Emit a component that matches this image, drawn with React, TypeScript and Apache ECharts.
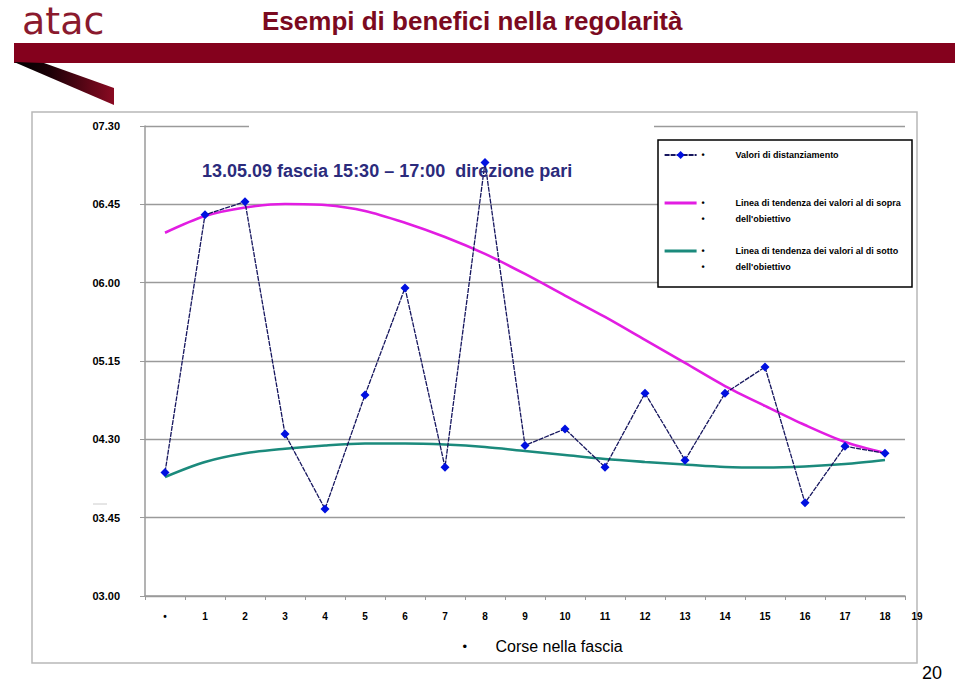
import React, { useEffect, useRef } from "react";
import * as echarts from "echarts";

const FONT = "'Liberation Sans', Arial, Helvetica, sans-serif";

// x-axis tick labels (last one sits past the axis end)
const xLabels = ["•", "1", "2", "3", "4", "5", "6", "7", "8", "9", "10", "11", "12", "13", "14", "15", "16", "17", "18", "19"];

// values in seconds (displayed as mm.ss)
const spacingValues = [251, 399, 406.5, 273, 230, 295.5, 357, 254, 429, 266.5, 276, 254, 296.5, 258, 296.5, 311.5, 233.5, 266, 262];
const trendAbove = [388.7, 398.3, 403.2, 405.2, 404.6, 401.2, 394.4, 386.2, 376.5, 365, 352.6, 340.3, 327.1, 313.9, 300.6, 289.2, 278.2, 268.5, 262.2];
const trendBelow = [248.4, 257, 262, 264.6, 266.5, 267.6, 267.6, 267, 265.6, 263.3, 261, 258.7, 257, 255.5, 254.1, 253.8, 254.4, 255.8, 258.1];

const yMin = 180;
const yMax = 450;
const yStep = 45;

const pageTitle = "Esempi di benefici nella regolarità";
const chartTitle = "13.05.09 fascia 15:30 – 17:00  direzione pari";
const xAxisName = "Corse nella fascia";
const pageNumber = "20";

const seriesNames = [
  "Valori di distanziamento",
  "Linea di tendenza dei valori al di sopra dell'obiettivo",
  "Linea di tendenza dei valori al di sotto dell'obiettivo",
];
const legendLines: Record<string, string[]> = {
  [seriesNames[0]]: ["Valori di distanziamento"],
  [seriesNames[1]]: ["Linea di tendenza dei valori al di sopra", "dell'obiettivo"],
  [seriesNames[2]]: ["Linea di tendenza dei valori al di sotto", "dell'obiettivo"],
};

const pad2 = (n: number) => (n < 10 ? "0" + n : "" + n);
const fmtTime = (v: number) => {
  const m = Math.floor(v / 60);
  const s = Math.round(v - m * 60);
  return pad2(m) + "." + pad2(s);
};

export default function App() {
  const ref = useRef<HTMLDivElement>(null);

  useEffect(() => {
    if (!ref.current) return;
    const chart = echarts.init(ref.current, null, { renderer: "svg" });

    const legendRichLine = { fontSize: 9, fontWeight: "bold", color: "#000", fontFamily: FONT, lineHeight: 16 };

    const option: any = {
      animation: false,
      backgroundColor: "#ffffff",
      title: {
        text: chartTitle,
        left: 202,
        top: 162,
        padding: 0,
        textStyle: { fontSize: 18, fontWeight: "bold", color: "#2b2b7c", fontFamily: FONT },
      },
      grid: { left: 145, right: 55, top: 126, bottom: 87 },
      xAxis: {
        type: "category",
        data: xLabels.slice(0, spacingValues.length),
        boundaryGap: true,
        axisLine: { lineStyle: { color: "#9a9a9a", width: 1.5 } },
        axisTick: { show: true, length: 4, lineStyle: { color: "#9a9a9a", width: 1 } },
        axisLabel: { interval: 0, margin: 15, fontSize: 10, fontWeight: "bold", color: "#000", fontFamily: FONT },
        name: "{b|•}{t|" + xAxisName + "}",
        nameLocation: "middle",
        nameGap: 42,
        nameTextStyle: {
          padding: [0, 0, 0, 35],
          rich: {
            b: { width: 33, align: "left", fontSize: 13, color: "#000", fontFamily: FONT },
            t: { fontSize: 16, color: "#000", fontFamily: FONT },
          },
        },
      },
      yAxis: {
        type: "value",
        min: yMin,
        max: yMax,
        interval: yStep,
        axisLine: { show: true, lineStyle: { color: "#9a9a9a", width: 1.5 } },
        axisTick: { show: true, length: 5, lineStyle: { color: "#9a9a9a", width: 1 } },
        splitLine: { show: true, lineStyle: { color: "#9a9a9a", width: 1.3 } },
        axisLabel: {
          formatter: (v: number) => fmtTime(v),
          margin: 25,
          fontSize: 11,
          fontWeight: "bold",
          color: "#000",
          fontFamily: FONT,
        },
      },
      legend: {
        orient: "vertical",
        left: 663,
        top: 131,
        padding: 0,
        itemGap: 0,
        itemWidth: 32,
        itemHeight: 10,
        selectedMode: false,
        data: [
          { name: seriesNames[0] },
          { name: seriesNames[1], lineStyle: { width: 3.2 } },
          { name: seriesNames[2], lineStyle: { width: 3.2 } },
        ],
        formatter: (name: string) => {
          const lines = legendLines[name] || [name];
          const l1 = "{b|•}{t|" + lines[0] + "}";
          const l2 = lines[1] ? "{b|•}{t|" + lines[1] + "}" : "{e| }";
          return "{e| }\n" + l1 + "\n" + l2;
        },
        textStyle: {
          fontSize: 9,
          fontWeight: "bold",
          color: "#000",
          fontFamily: FONT,
          lineHeight: 16,
          rich: {
            e: { ...legendRichLine },
            b: { ...legendRichLine, width: 34, align: "left" },
            t: { ...legendRichLine },
          },
        },
      },
      graphic: [
        // outer frame of the chart area
        {
          type: "rect",
          z: 1,
          silent: true,
          shape: { x: 32, y: 112, width: 885, height: 551 },
          style: { fill: "none", stroke: "#b8b8b8", lineWidth: 1.5 },
        },
        // white area hiding the top gridline behind the title box
        {
          type: "rect",
          z: 3,
          silent: true,
          shape: { x: 249, y: 121, width: 405, height: 10 },
          style: { fill: "#ffffff" },
        },
        // legend frame
        {
          type: "rect",
          z: 3,
          silent: true,
          shape: { x: 658, y: 140, width: 254, height: 147 },
          style: { fill: "#ffffff", stroke: "#000000", lineWidth: 1.5 },
        },
        // small dash left of 03.45
        {
          type: "line",
          z: 1,
          silent: true,
          shape: { x1: 93, y1: 504, x2: 107, y2: 504 },
          style: { stroke: "#cccccc", lineWidth: 1 },
        },
        // header band
        {
          type: "rect",
          z: 5,
          silent: true,
          shape: { x: 14, y: 43, width: 941, height: 20 },
          style: { fill: "#84011d" },
        },
        {
          type: "polygon",
          z: 5,
          silent: true,
          shape: { points: [[14, 62], [44, 63], [114, 88], [114, 105]] },
          style: {
            fill: new echarts.graphic.LinearGradient(0, 0, 1, 0, [
              { offset: 0, color: "#000000" },
              { offset: 0.35, color: "#1a0006" },
              { offset: 1, color: "#8a0a22" },
            ]),
          },
        },
        {
          type: "text",
          z: 5,
          silent: true,
          x: 22,
          y: 21,
          style: {
            text: "atac",
            fill: "#8a1a2e",
            font: "normal 38px 'DejaVu Sans', sans-serif",
            textAlign: "left",
            textVerticalAlign: "middle",
          },
        },
        {
          type: "text",
          z: 5,
          silent: true,
          x: 262,
          y: 21,
          style: {
            text: pageTitle,
            fill: "#7b0a20",
            font: "bold 26px " + FONT,
            textAlign: "left",
            textVerticalAlign: "middle",
          },
        },
        // last x-axis label beyond the axis end
        {
          type: "text",
          z: 5,
          silent: true,
          x: 917,
          y: 616,
          style: {
            text: xLabels[xLabels.length - 1],
            fill: "#000",
            font: "bold 10px " + FONT,
            textAlign: "center",
            textVerticalAlign: "middle",
          },
        },
        {
          type: "text",
          z: 5,
          silent: true,
          x: 932,
          y: 673,
          style: {
            text: pageNumber,
            fill: "#000",
            font: "normal 18px " + FONT,
            textAlign: "center",
            textVerticalAlign: "middle",
          },
        },
      ],
      series: [
        {
          name: seriesNames[1],
          type: "line",
          data: trendAbove,
          smooth: 0.3,
          symbol: "none",
          z: 2,
          lineStyle: { color: "#e21de2", width: 2.6 },
          itemStyle: { color: "rgba(0,0,0,0)" },
        },
        {
          name: seriesNames[2],
          type: "line",
          data: trendBelow,
          smooth: 0.3,
          symbol: "none",
          z: 2,
          lineStyle: { color: "#1b8a7c", width: 2.6 },
          itemStyle: { color: "rgba(0,0,0,0)" },
        },
        {
          name: seriesNames[0],
          type: "line",
          data: spacingValues,
          symbol: "diamond",
          symbolSize: 9,
          z: 3,
          lineStyle: { color: "#16165e", width: 1.3, type: [5, 1] },
          itemStyle: { color: "#0010e0", borderWidth: 0 },
        },
      ],
    };

    chart.setOption(option);
    return () => {
      chart.dispose();
    };
  }, []);

  return (
    <div
      ref={ref}
      style={{ position: "fixed", left: 0, top: 0, width: 960, height: 683, background: "#fff" }}
    />
  );
}
